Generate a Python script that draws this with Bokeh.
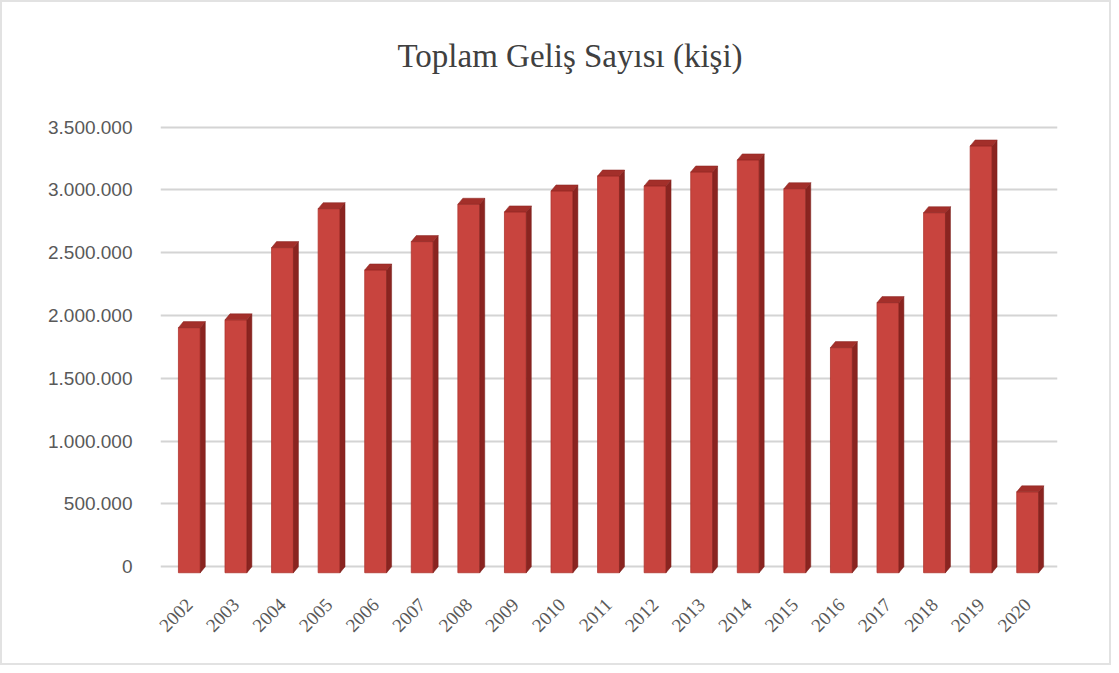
from bokeh.plotting import figure
from bokeh.models import Range1d, FixedTicker, ColumnDataSource, Title
from bokeh.embed import file_html
from bokeh.resources import INLINE
import math

years = ["2002", "2003", "2004", "2005", "2006", "2007", "2008", "2009", "2010",
         "2011", "2012", "2013", "2014", "2015", "2016", "2017", "2018", "2019", "2020"]
arrivals = [1951000, 2013000, 2588000, 2898000, 2410000, 2636000, 2933000, 2872000,
            3039000, 3158000, 3079000, 3190000, 3286000, 3057000, 1792000, 2150000,
            2866000, 3397000, 644000]
y_ticks = [0, 500000, 1000000, 1500000, 2000000, 2500000, 3000000, 3500000]
title_text = "Toplam Geliş Sayısı (kişi)"

# pseudo-3D geometry (data units)
w = 0.47      # front face width
d = 0.107     # depth (horizontal)
dy = 48000    # depth (vertical)

idx = list(range(len(years)))
front = ColumnDataSource(dict(x=idx, top=[v - dy for v in arrivals], bottom=[-dy] * len(idx)))
side = ColumnDataSource(dict(
    xs=[[i + w / 2, i + w / 2 + d, i + w / 2 + d, i + w / 2] for i in idx],
    ys=[[-dy, 0, v, v - dy] for v in arrivals]))
cap = ColumnDataSource(dict(
    xs=[[i - w / 2, i + w / 2, i + w / 2 + d, i - w / 2 + d] for i in idx],
    ys=[[v - dy, v - dy, v, v] for v in arrivals]))

p = figure(width=1111, height=665, output_backend="svg", toolbar_location=None,
           x_range=Range1d(-0.62, 18.64), y_range=Range1d(-70000, 3520000),
           min_border_left=158, min_border_right=56, min_border_top=122,
           min_border_bottom=92, title=None)

# spacer between frame and title, then the title itself (further out)
spacer = Title(text=" ", text_font_size="1px", standoff=48, text_color="white")
p.add_layout(spacer, "above")
main_title = Title(text=title_text, align="left", offset=237, standoff=0,
                   text_font="Liberation Serif", text_font_size="33px",
                   text_font_style="normal", text_color="#404040")
p.add_layout(main_title, "above")

p.outline_line_color = None
p.background_fill_color = "white"
p.border_fill_color = "white"
p.styles = {"border": "2px solid #e2e2e2", "box-sizing": "border-box"}

# grid
p.xgrid.grid_line_color = None
p.ygrid.ticker = FixedTicker(ticks=y_ticks)
p.ygrid.grid_line_color = "#d4d4d4"
p.ygrid.grid_line_width = 2

# y axis
p.yaxis.ticker = FixedTicker(ticks=y_ticks)
p.yaxis.major_label_overrides = {t: f"{t:,}".replace(",", ".") for t in y_ticks}
p.yaxis.axis_line_color = None
p.yaxis.major_tick_line_color = None
p.yaxis.minor_tick_line_color = None
p.yaxis.major_label_text_font = "Liberation Sans"
p.yaxis.major_label_text_font_size = "19px"
p.yaxis.major_label_text_color = "#595959"
p.yaxis.major_label_standoff = 22

# x axis
p.xaxis.ticker = FixedTicker(ticks=idx)
p.xaxis.major_label_overrides = {i: y for i, y in zip(idx, years)}
p.xaxis.axis_line_color = None
p.xaxis.major_tick_line_color = None
p.xaxis.minor_tick_line_color = None
p.xaxis.major_label_orientation = math.pi / 4
p.xaxis.major_label_text_font = "Liberation Serif"
p.xaxis.major_label_text_font_size = "19px"
p.xaxis.major_label_text_color = "#595959"
p.xaxis.major_label_standoff = 20

# bars
p.vbar(x="x", top="top", bottom="bottom", width=w, source=front,
       fill_color="#C8443E", line_color="#B0352F", line_width=0.8)
p.patches(xs="xs", ys="ys", source=side, fill_color="#8A2420", line_color="#7A1F1B", line_width=0.5)
p.patches(xs="xs", ys="ys", source=cap, fill_color="#A32F2A", line_color="#8A2420", line_width=0.5)

open("out.html", "w").write(file_html(p, INLINE))
